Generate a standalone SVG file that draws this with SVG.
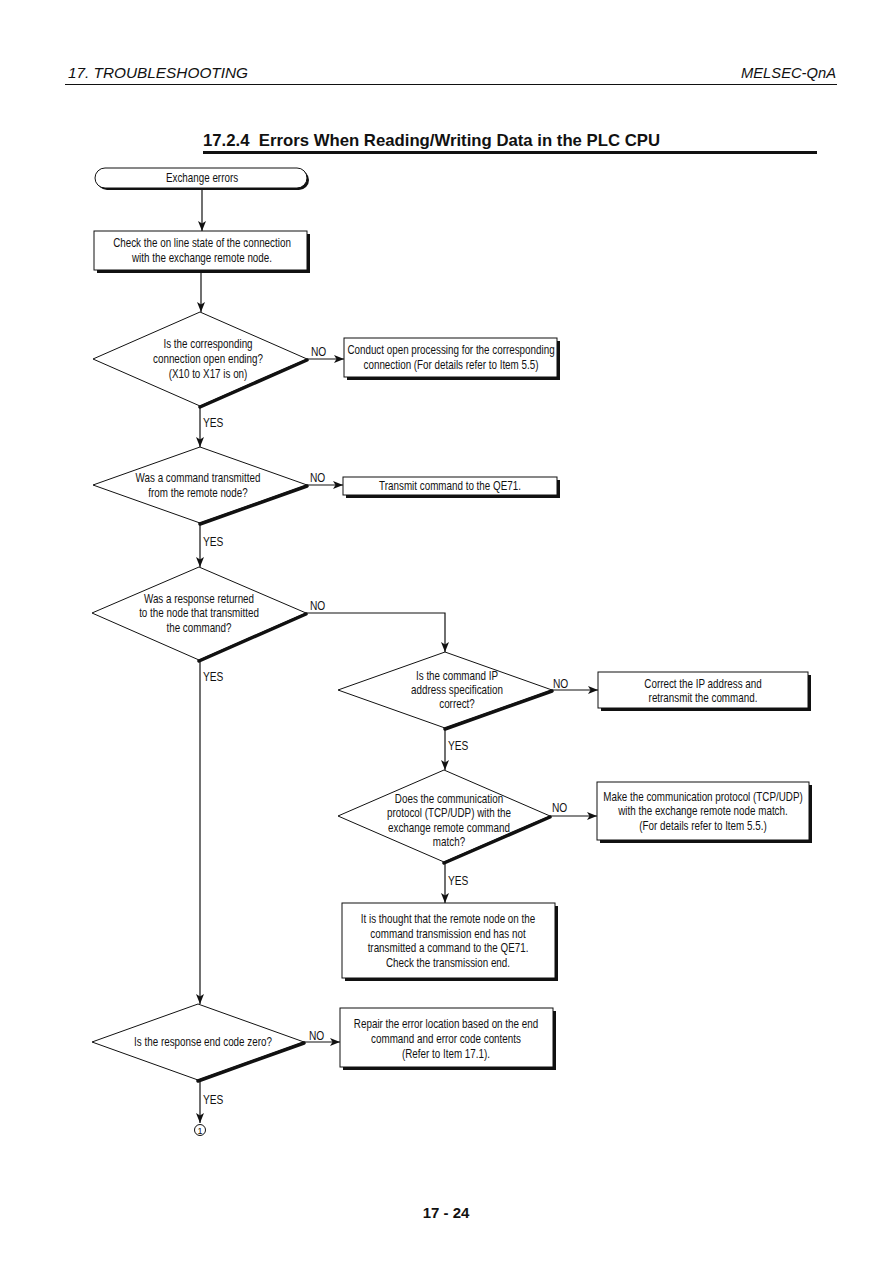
<svg xmlns="http://www.w3.org/2000/svg" width="893" height="1263" viewBox="0 0 893 1263">
<defs>
<marker id="ah" viewBox="0 0 10 8" refX="10" refY="4" markerWidth="10" markerHeight="8" markerUnits="userSpaceOnUse" orient="auto">
<path d="M0,0 L10,4 L0,8 L2.5,4 Z" fill="#111"/>
</marker>
</defs>
<style>
.t{font-family:"Liberation Sans",Arial,sans-serif;font-size:12px;fill:#111;text-anchor:middle}
.l{font-family:"Liberation Sans",Arial,sans-serif;font-size:12px;fill:#111}
.box{fill:#fff;stroke:#111;stroke-width:1}
.sh{fill:#111}
.dia{fill:#fff;stroke:#111;stroke-width:1}
.dsh{fill:none;stroke:#111;stroke-width:3.5;stroke-linecap:round}
.ca{fill:none;stroke:#111;stroke-width:1.2;marker-end:url(#ah)}
</style>
<rect width="893" height="1263" fill="#fff"/>
<g id="header">
<text x="68" y="78" font-family="Liberation Sans,Arial,sans-serif" font-style="italic" font-size="14" fill="#111" textLength="180" lengthAdjust="spacingAndGlyphs">17. TROUBLESHOOTING</text>
<text x="741" y="78" font-family="Liberation Sans,Arial,sans-serif" font-style="italic" font-size="14" fill="#111" textLength="95" lengthAdjust="spacingAndGlyphs">MELSEC-QnA</text>
<line x1="65" y1="84.5" x2="837" y2="84.5" stroke="#111" stroke-width="1.2"/>
<text x="203" y="146" font-family="Liberation Sans,Arial,sans-serif" font-weight="bold" font-size="17" fill="#111" textLength="457" lengthAdjust="spacingAndGlyphs" xml:space="preserve">17.2.4  Errors When Reading/Writing Data in the PLC CPU</text>
<line x1="203" y1="152.5" x2="817" y2="152.5" stroke="#111" stroke-width="3"/>
</g>
<g id="connectors">
<path class="ca" d="M202,189 V231"/>
<path class="ca" d="M201,273 V312"/>
<path class="ca" d="M307,359 H344"/>
<path class="ca" d="M200,406 V447"/>
<path class="ca" d="M307,485 H343"/>
<path class="ca" d="M200,523 V567"/>
<path class="ca" d="M306,613 H445 V652"/>
<path class="ca" d="M200,660 V1004"/>
<path class="ca" d="M552,690 H598"/>
<path class="ca" d="M445,728 V770"/>
<path class="ca" d="M550,816 H597"/>
<path class="ca" d="M445,862 V903"/>
<path class="ca" d="M304,1042 H340"/>
<path class="ca" d="M200,1080 V1123"/>
<text class="l" transform="translate(311,356) scale(0.85,1)">NO</text>
<text class="l" transform="translate(203,427) scale(0.85,1)">YES</text>
<text class="l" transform="translate(310,482) scale(0.85,1)">NO</text>
<text class="l" transform="translate(203,546) scale(0.85,1)">YES</text>
<text class="l" transform="translate(310,610) scale(0.85,1)">NO</text>
<text class="l" transform="translate(203,681) scale(0.85,1)">YES</text>
<text class="l" transform="translate(553,688) scale(0.85,1)">NO</text>
<text class="l" transform="translate(448,750) scale(0.85,1)">YES</text>
<text class="l" transform="translate(552,812) scale(0.85,1)">NO</text>
<text class="l" transform="translate(448,885) scale(0.85,1)">YES</text>
<text class="l" transform="translate(309,1040) scale(0.85,1)">NO</text>
<text class="l" transform="translate(203,1104) scale(0.85,1)">YES</text>
</g>
<g id="start">
<rect x="97" y="170" width="212" height="20" rx="10" class="sh"/>
<rect x="95" y="168" width="212" height="20" rx="10" class="box"/>
<text class="t" transform="translate(202,182) scale(0.82,1)">Exchange errors</text>
</g>
<g id="check">
<rect x="97" y="234" width="213" height="39" class="sh"/>
<rect x="94" y="231" width="213" height="39" class="box"/>
<text class="t" transform="translate(202,247) scale(0.82,1)">Check the on line state of the connection</text>
<text class="t" transform="translate(202,262) scale(0.82,1)">with the exchange remote node.</text>
</g>
<g id="d1">
<polygon class="dia" points="200,312 307,359 200,406 93,359"/>
<polyline class="dsh" points="307,360 200,407"/>
<text class="t" transform="translate(208,348) scale(0.82,1)">Is the corresponding</text>
<text class="t" transform="translate(208,363) scale(0.82,1)">connection open ending?</text>
<text class="t" transform="translate(208,378) scale(0.82,1)">(X10 to X17 is on)</text>
</g>
<g id="b2">
<rect x="347" y="341" width="213" height="39" class="sh"/>
<rect x="344" y="338" width="213" height="39" class="box"/>
<text class="t" transform="translate(451,354) scale(0.82,1)">Conduct open processing for the corresponding</text>
<text class="t" transform="translate(451,369) scale(0.82,1)">connection (For details refer to Item 5.5)</text>
</g>
<g id="d2">
<polygon class="dia" points="200,447 307,485 200,523 93,485"/>
<polyline class="dsh" points="307,486 200,524"/>
<text class="t" transform="translate(198,482) scale(0.82,1)">Was a command transmitted</text>
<text class="t" transform="translate(198,497) scale(0.82,1)">from the remote node?</text>
</g>
<g id="b3">
<rect x="346" y="480" width="214" height="18" class="sh"/>
<rect x="343" y="477" width="214" height="18" class="box"/>
<text class="t" transform="translate(450,490) scale(0.82,1)">Transmit command to the QE71.</text>
</g>
<g id="d3">
<polygon class="dia" points="199,567 306,613 199,660 92,613"/>
<polyline class="dsh" points="306,614 199,661"/>
<text class="t" transform="translate(199,603) scale(0.82,1)">Was a response returned</text>
<text class="t" transform="translate(199,617) scale(0.82,1)">to the node that transmitted</text>
<text class="t" transform="translate(199,632) scale(0.82,1)">the command?</text>
</g>
<g id="d4">
<polygon class="dia" points="445,652 552,690 445,728 338,690"/>
<polyline class="dsh" points="552,691 445,729"/>
<text class="t" transform="translate(457,680) scale(0.82,1)">Is the command IP</text>
<text class="t" transform="translate(457,694) scale(0.82,1)">address specification</text>
<text class="t" transform="translate(457,708) scale(0.82,1)">correct?</text>
</g>
<g id="b4">
<rect x="601" y="675" width="210" height="36" class="sh"/>
<rect x="598" y="672" width="210" height="36" class="box"/>
<text class="t" transform="translate(703,688) scale(0.82,1)">Correct the IP address and</text>
<text class="t" transform="translate(703,702) scale(0.82,1)">retransmit the command.</text>
</g>
<g id="d5">
<polygon class="dia" points="444,770 550,816 444,862 338,816"/>
<polyline class="dsh" points="550,817 444,863"/>
<text class="t" transform="translate(449,803) scale(0.82,1)">Does the communication</text>
<text class="t" transform="translate(449,817) scale(0.82,1)">protocol (TCP/UDP) with the</text>
<text class="t" transform="translate(449,832) scale(0.82,1)">exchange remote command</text>
<text class="t" transform="translate(449,846) scale(0.82,1)">match?</text>
</g>
<g id="b5">
<rect x="600" y="785" width="212" height="58" class="sh"/>
<rect x="597" y="782" width="212" height="58" class="box"/>
<text class="t" transform="translate(703,801) scale(0.82,1)">Make the communication protocol (TCP/UDP)</text>
<text class="t" transform="translate(703,815) scale(0.82,1)">with the exchange remote node match.</text>
<text class="t" transform="translate(703,830) scale(0.82,1)">(For details refer to Item 5.5.)</text>
</g>
<g id="b6">
<rect x="345" y="906" width="213" height="75" class="sh"/>
<rect x="342" y="903" width="213" height="75" class="box"/>
<text class="t" transform="translate(448,923) scale(0.82,1)">It is thought that the remote node on the</text>
<text class="t" transform="translate(448,938) scale(0.82,1)">command transmission end has not</text>
<text class="t" transform="translate(448,952) scale(0.82,1)">transmitted a command to the QE71.</text>
<text class="t" transform="translate(448,967) scale(0.82,1)">Check the transmission end.</text>
</g>
<g id="d6">
<polygon class="dia" points="198,1004 304,1042 198,1080 92,1042"/>
<polyline class="dsh" points="304,1043 198,1081"/>
<text class="t" transform="translate(203,1046) scale(0.82,1)">Is the response end code zero?</text>
</g>
<g id="b7">
<rect x="343" y="1011" width="213" height="59" class="sh"/>
<rect x="340" y="1008" width="213" height="59" class="box"/>
<text class="t" transform="translate(446,1028) scale(0.82,1)">Repair the error location based on the end</text>
<text class="t" transform="translate(446,1043) scale(0.82,1)">command and error code contents</text>
<text class="t" transform="translate(446,1058) scale(0.82,1)">(Refer to Item 17.1).</text>
</g>
<g id="connector1">
<circle cx="200" cy="1130" r="5.5" fill="#fff" stroke="#111" stroke-width="1"/>
<text x="200" y="1133.5" font-family="Liberation Sans,Arial,sans-serif" font-size="9" fill="#111" text-anchor="middle">1</text>
</g>
<g id="footer">
<text x="446" y="1218" font-family="Liberation Sans,Arial,sans-serif" font-weight="bold" font-size="15" fill="#111" text-anchor="middle">17 - 24</text>
</g>
</svg>
